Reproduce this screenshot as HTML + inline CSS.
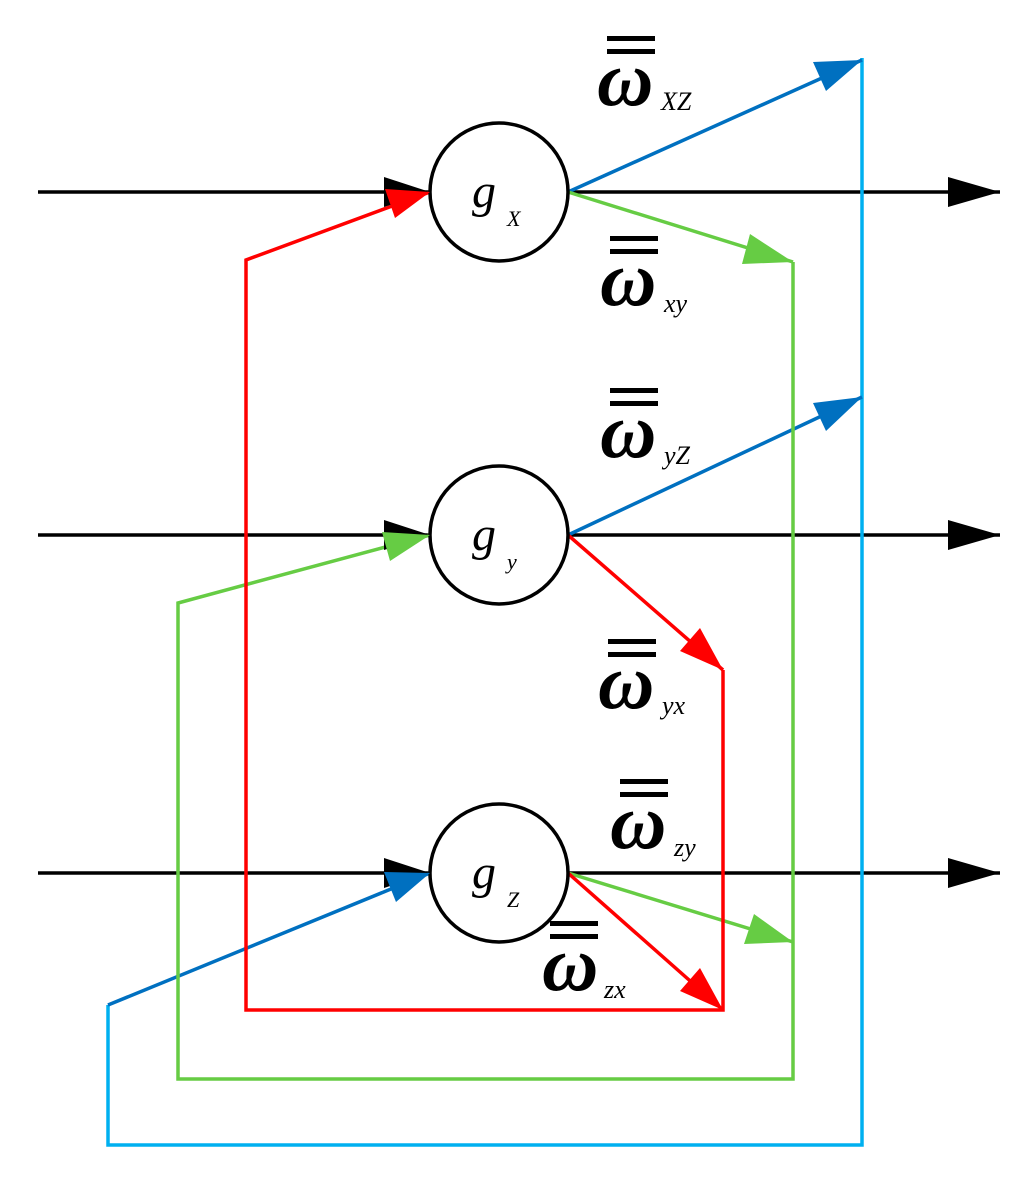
<!DOCTYPE html>
<html><head><style>html,body{margin:0;padding:0;background:#fff}</style></head><body>
<svg width="1024" height="1175" viewBox="0 0 1024 1175" xmlns="http://www.w3.org/2000/svg">
<defs>
<marker id="k" markerWidth="10" markerHeight="8" refX="10" refY="4" orient="auto" markerUnits="userSpaceOnUse" viewBox="0 0 10 8"><path d="M0,0L10,4L0,8Z" fill="#000"/></marker>
</defs>
<g fill="none" stroke-width="3.5">
<!-- black lines -->
<g stroke="#000">
<line x1="38" y1="192" x2="430" y2="192"/><line x1="568" y1="192" x2="1000" y2="192"/>
<line x1="38" y1="535" x2="430" y2="535"/><line x1="568" y1="535" x2="1000" y2="535"/>
<line x1="38" y1="873" x2="430" y2="873"/><line x1="568" y1="873" x2="1000" y2="873"/>
</g>
<!-- light blue loop -->
<polyline stroke="#00b0f0" points="862,58 862,1145 108,1145 108,1005"/>
<!-- blue -->
<g stroke="#0070c0">
<line x1="568" y1="192" x2="862" y2="60"/>
<line x1="568" y1="535" x2="862" y2="397"/>
<polyline points="108,1005 430,873"/>
</g>
<!-- green -->
<g stroke="#66cc44">
<line x1="568" y1="192" x2="793" y2="262"/>
<polyline points="793,262 793,1079 178,1079 178,603 430,535"/>
<line x1="568" y1="873" x2="793" y2="942"/>
</g>
<!-- red -->
<g stroke="#ff0000">
<line x1="568" y1="535" x2="723" y2="670"/>
<polyline points="723,670 723,1010 246,1010 246,260 430,192"/>
<line x1="568" y1="873" x2="723" y2="1010"/>
</g>
<!-- circles -->
<g stroke="#000" fill="#fff">
<circle cx="499" cy="192" r="69"/><circle cx="499" cy="535" r="69"/><circle cx="499" cy="873" r="69"/>
</g>
</g>
<!-- arrowheads -->
<g>
<polygon fill="#000" points="430,192 384,177 384,207"/>
<polygon fill="#000" points="1000,192 948,177 948,207"/>
<polygon fill="#000" points="430,535 384,520 384,550"/>
<polygon fill="#000" points="1000,535 948,520 948,550"/>
<polygon fill="#000" points="430,873 384,858 384,888"/>
<polygon fill="#000" points="1000,873 948,858 948,888"/>
<!-- blue heads -->
<polygon fill="#0070c0" points="862,60 813,62 826,91"/>
<polygon fill="#0070c0" points="862,397 813,403 826,431"/>
<polygon fill="#0070c0" points="430,873 384,872 396,902"/>
<!-- green heads -->
<polygon fill="#66cc44" points="793,262 750,234 742,264"/>
<polygon fill="#66cc44" points="430,535 382,532 390,561"/>
<polygon fill="#66cc44" points="793,942 754,914 744,944"/>
<!-- red heads -->
<polygon fill="#ff0000" points="430,192 385,189 395,218"/>
<polygon fill="#ff0000" points="723,670 700,628 680,651"/>
<polygon fill="#ff0000" points="723,1010 700,968 680,991"/>
</g>
<!-- node labels -->
<g font-family="Liberation Serif, serif" font-style="italic" fill="#000">
<text x="472" y="207" font-size="48">g</text><text x="507" y="226" font-size="22">X</text>
<text x="472" y="550" font-size="48">g</text><text x="507" y="569" font-size="22">y</text>
<text x="472" y="888" font-size="48">g</text><text x="507" y="907" font-size="22">Z</text>
</g>
<!-- omega labels -->
<g font-family="Liberation Serif, serif" font-style="italic" fill="#000">
<g font-weight="bold" font-size="78">
<text x="597" y="105">ω</text>
<text x="600" y="305">ω</text>
<text x="600" y="457">ω</text>
<text x="598" y="708">ω</text>
<text x="610" y="848">ω</text>
<text x="542" y="990">ω</text>
</g>
<g font-size="26">
<text x="661" y="110">XZ</text>
<text x="664" y="312">xy</text>
<text x="664" y="464">yZ</text>
<text x="662" y="714">yx</text>
<text x="674" y="856">zy</text>
<text x="604" y="998">zx</text>
</g>
<g fill="#000">
<rect x="607" y="36" width="48" height="5"/><rect x="607" y="49" width="48" height="5"/>
<rect x="610" y="236" width="48" height="5"/><rect x="610" y="249" width="48" height="5"/>
<rect x="610" y="388" width="48" height="5"/><rect x="610" y="401" width="48" height="5"/>
<rect x="608" y="639" width="48" height="5"/><rect x="608" y="652" width="48" height="5"/>
<rect x="620" y="779" width="48" height="5"/><rect x="620" y="792" width="48" height="5"/>
<rect x="550" y="921" width="48" height="5"/><rect x="550" y="934" width="48" height="5"/>
</g>
</g>
</svg>
</body></html>
